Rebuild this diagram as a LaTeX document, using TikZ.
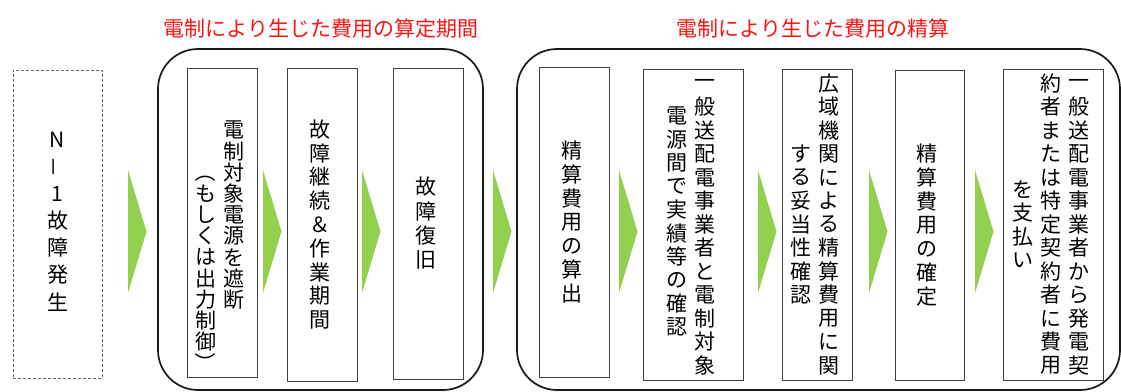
\documentclass[tikz,border=0pt]{standalone}
\usepackage{graphicx}
\usepackage{fontspec}
\setmainfont{Noto Sans CJK JP}

\definecolor{arrowgreen}{RGB}{146,208,80}
\definecolor{titlered}{RGB}{250,20,20}

% one vertical column of characters, centred on the baseline, optional shift down
\newdimen\tatepitch \tatepitch=23.5pt
\makeatletter
\newcommand\tatecol[2][0pt]{%
  \setbox0=\vbox{\offinterlineskip
    \@tfor\tch:=#2\do{\hbox to 28pt{\hss\vbox to \tatepitch{\vss\hbox{\tch}\vss}\hss}}}%
  \dimen0=\ht0 \divide\dimen0 by 2 \advance\dimen0 by #1\relax
  \setbox2=\hbox{\lower\dimen0\box0}\ht2=0pt \dp2=0pt \box2}
\makeatother
\newcommand\tateop{\rotatebox{-90}{（}}
\newcommand\tatecl{\rotatebox{-90}{）}}

\tikzset{
  stepbox/.style={draw=black!75, line width=0.9pt, inner sep=0pt, minimum width=70pt,
    minimum height=311pt, font=\fontsize{21pt}{22pt}\selectfont, execute at end node=\kern5pt},
  groupbox/.style={draw=black!90, line width=1.7pt, rounded corners=40pt, inner sep=0pt},
  title/.style={text=titlered, inner sep=0pt, font=\fontsize{21pt}{22pt}\selectfont},
}

\begin{document}
\begin{tikzpicture}[x=1pt,y=-1pt]
   \useasboundingbox (0,0) rectangle (1121,391);

   \node[title] (title1) at (321,29) {電制により生じた費用の算定期間};
   \node[title] (title2) at (813,29) {電制により生じた費用の精算};

   \node[groupbox, minimum width=325pt, minimum height=341pt] (period) at (320.5,219.5) {};
   \node[groupbox, minimum width=603pt, minimum height=341pt] (settle) at (818.5,219.5) {};

   \node[draw=black!60, line width=0.6pt, dash pattern=on 3pt off 2pt, inner sep=0pt,
     minimum width=89pt, minimum height=308pt, font=\fontsize{21pt}{22pt}\selectfont]
     (fault) at (57.5,224) {\tatepitch=27pt\tatecol[-3pt]{N{\rotatebox{90}{－}}1故障発生}};

   % columns are written left to right
   \node[stepbox, minimum height=309pt] (cut) at (222,222.5)
     {\tatepitch=21.2pt\tatecol[45.3pt]{\tateop もしくは出力制御\tatecl}\tatecol[-7.7pt]{電制対象電源を遮断}};
   \node[stepbox, minimum height=313pt] (work) at (322,224.5) {\tatepitch=23.8pt\tatecol{故障継続＆作業期間}};
   \node[stepbox] (restore) at (428,223.5) {\tatepitch=24.5pt\tatecol{故障復旧}};

   \node[stepbox, minimum height=310pt] (calc) at (574,222) {\tatepitch=23.8pt\tatecol{精算費用の算出}};
   \node[stepbox, minimum width=100pt] (check) at (693,224.5)
     {\tatecol[-3pt]{電源間で実績等の確認}\tatecol{一般送配電事業者と電制対象}};
   \node[stepbox] (review) at (817,224.5)
     {\tatecol{する妥当性確認}\tatecol{広域機関による精算費用に関}};
   \node[stepbox, minimum width=69pt, minimum height=310pt] (fix) at (929.5,225)
     {\tatepitch=23.8pt\tatecol{精算費用の確定}};
   \node[stepbox, minimum width=100pt] (pay) at (1053,224.5)
     {\tatecol{を支払い}\tatecol{約者または特定契約者に費用}\tatecol{一般送配電事業者から発電契}};

   \foreach \x in {128,263,362,493,619,758,869,975}
     \fill[arrowgreen] (\x,170) -- (\x,293) -- (\x+18.5,231.5) -- cycle;
\end{tikzpicture}
\end{document}
